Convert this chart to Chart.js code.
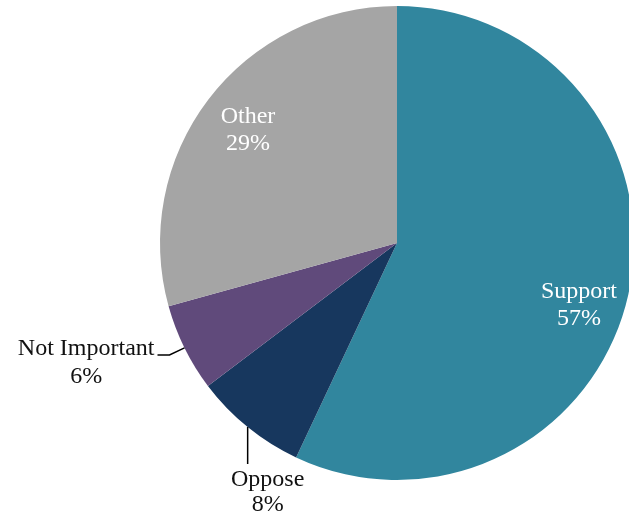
<!DOCTYPE html>
<html>
<head>
<meta charset="utf-8">
<script src="https://cdn.jsdelivr.net/npm/chart.js@4.4.0/dist/chart.umd.min.js"></script>
<style>
  html, body { margin: 0; padding: 0; background: #fff; overflow: hidden; }
  #wrap { position: absolute; left: 0; top: 0; width: 640px; height: 516px; }
</style>
</head>
<body>
<div id="wrap"><canvas id="pieChart" width="640" height="516"></canvas></div>
<script>
const categories = ["Support", "Oppose", "Not Important", "Other"];
const shares = [57.0, 7.7, 6.0, 29.3];
const sliceColors = ["#31869E", "#17375E", "#604A7B", "#A5A5A5"];

const FONT = '24px "Liberation Serif", "Times New Roman", serif';

// how each label is placed (inside the slice, or outside with a leader line)
const labelStyle = {
    "Support": { inside: true, frac: 0.81, shift: 6 },
    "Other": { inside: true, frac: 0.79, shift: 0 },
    "Not Important": { inside: false, leader: "left" },
    "Oppose": { inside: false, leader: "down" }
};

const sliceLabels = {
    id: "sliceLabels",
    afterDatasetsDraw(chart) {
        const ctx = chart.ctx;
        const arcs = chart.getDatasetMeta(0).data;
        ctx.save();
        ctx.font = FONT;
        ctx.textBaseline = "middle";
        arcs.forEach((arc, i) => {
            const name = categories[i];
            const pct = Math.round(shares[i]) + "%";
            const st = labelStyle[name];
            const mid = (arc.startAngle + arc.endAngle) / 2;
            const r = arc.outerRadius;
            if (st.inside) {
                const a = mid + st.shift * Math.PI / 180;
                const cx = arc.x + Math.cos(a) * r * st.frac;
                const cy = arc.y + Math.sin(a) * r * st.frac;
                ctx.fillStyle = "#ffffff";
                ctx.textAlign = "center";
                ctx.fillText(name, cx, cy - 13);
                ctx.fillText(pct, cx, cy + 14);
            } else {
                const ex = arc.x + Math.cos(mid) * r;
                const ey = arc.y + Math.sin(mid) * r;
                ctx.strokeStyle = "#000000";
                ctx.lineWidth = 1.5;
                ctx.fillStyle = "#111111";
                ctx.beginPath();
                if (st.leader === "left") {
                    const bx = ex - 15, by = ey + 7;
                    const tx = bx - 12;
                    ctx.moveTo(ex, ey);
                    ctx.lineTo(bx, by);
                    ctx.lineTo(tx, by);
                    ctx.stroke();
                    const w = ctx.measureText(name).width;
                    const cx = tx - 3 - w / 2;
                    ctx.textAlign = "center";
                    ctx.fillText(name, cx, by - 6);
                    ctx.fillText(pct, cx, by + 22);
                } else {
                    const by = ey + 37;
                    ctx.moveTo(ex, ey);
                    ctx.lineTo(ex, by);
                    ctx.stroke();
                    const cx = ex + 20;
                    ctx.textAlign = "center";
                    ctx.fillText(name, cx, by + 16);
                    ctx.fillText(pct, cx, by + 41);
                }
            }
        });
        ctx.restore();
    }
};

new Chart(document.getElementById("pieChart").getContext("2d"), {
    type: "pie",
    data: {
        labels: categories,
        datasets: [{
            data: shares,
            backgroundColor: sliceColors,
            borderWidth: 0
        }]
    },
    options: {
        responsive: false,
        animation: false,
        layout: {
            padding: { left: 160, right: 6, top: 6, bottom: 36 }
        },
        plugins: {
            legend: { display: false },
            tooltip: { enabled: false }
        }
    },
    plugins: [sliceLabels]
});
</script>
</body>
</html>
